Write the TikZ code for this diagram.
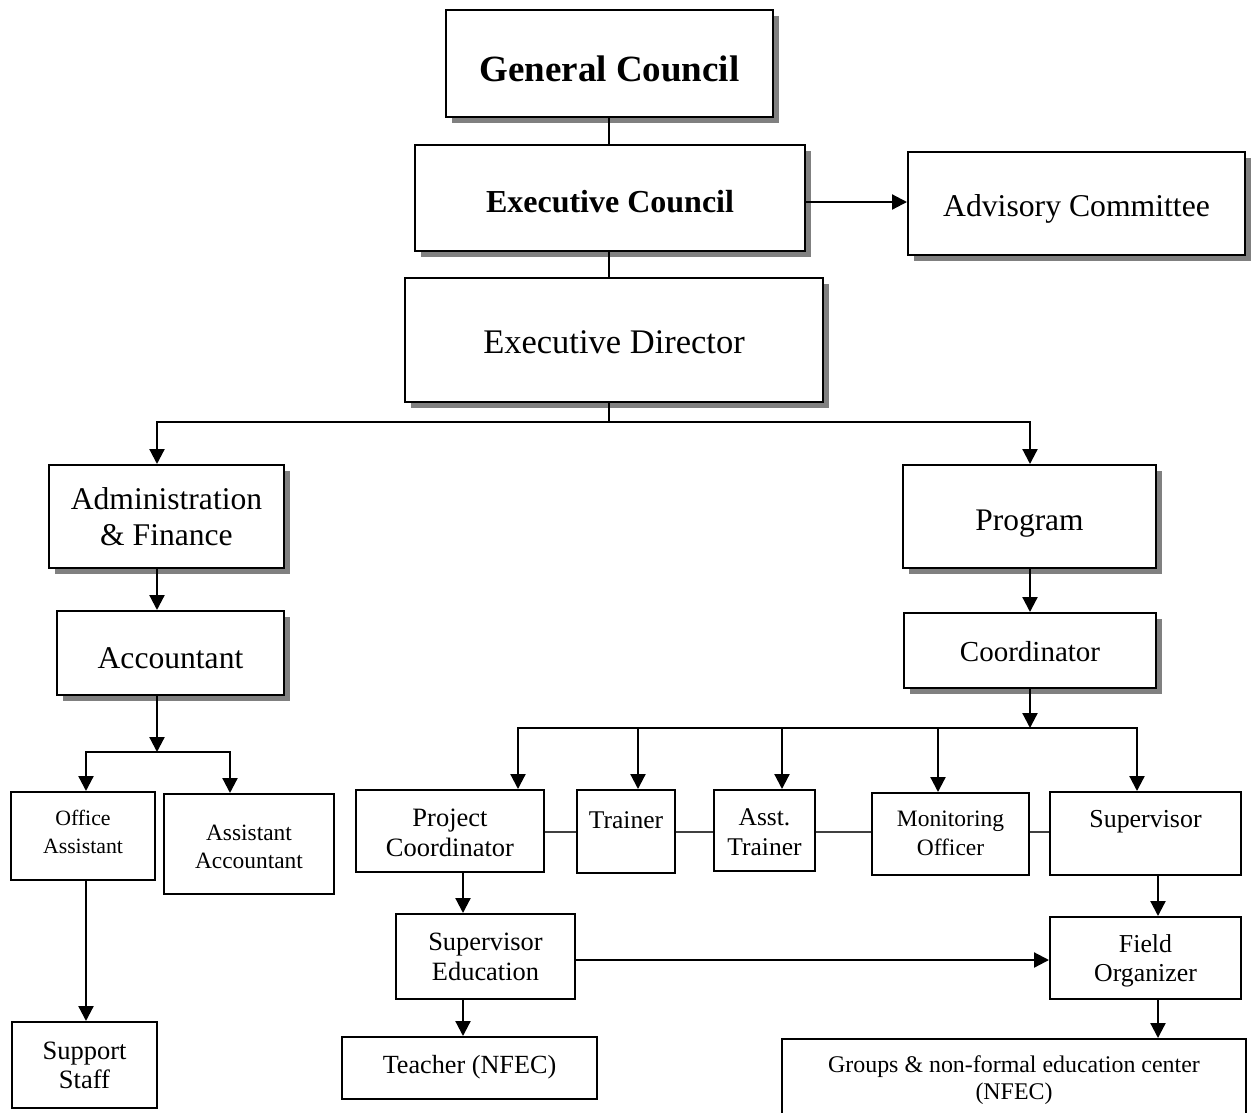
\documentclass[tikz,border=0pt]{standalone}
\usepackage{fontspec}
\setmainfont{Liberation Serif}
\usetikzlibrary{arrows.meta,shadows}
\begin{document}
\begin{tikzpicture}[x=1pt,y=-1pt,
  box/.style={draw=black, line width=2pt, fill=white, inner sep=0pt, rectangle},
  shbox/.style={box, drop shadow={shadow xshift=6pt, shadow yshift=-6pt, fill=black!50, opacity=1}},
  txt/.style={inner sep=0pt, align=center},
  arr/.style={line width=2.2pt, line join=miter, -{Triangle[length=15pt,width=15pt]}},
  ln/.style={line width=2.2pt},
  thinln/.style={line width=1.7pt, draw=black!75},
]
\useasboundingbox (0,0) rectangle (1253,1112);

% ---- boxes ----
\node[shbox, minimum width=327pt, minimum height=107pt] (gc) at (609.5,63.5) {};
\node[shbox, minimum width=390pt, minimum height=106pt] (ec) at (610,198) {};
\node[shbox, minimum width=337pt, minimum height=103pt] (adv) at (1076.5,203.5) {};
\node[shbox, minimum width=418pt, minimum height=124pt] (ed) at (614,340) {};

\node[shbox, minimum width=235pt, minimum height=103pt] (af) at (166.5,516.5) {};
\node[shbox, minimum width=227pt, minimum height=84pt] (acc) at (170.5,653) {};
\node[box, minimum width=144pt, minimum height=88pt] (oa) at (83,836) {};
\node[box, minimum width=170pt, minimum height=100pt] (aa) at (249,844) {};
\node[box, minimum width=145pt, minimum height=86pt] (ss) at (84.5,1065) {};

\node[shbox, minimum width=253pt, minimum height=103pt] (prog) at (1029.5,516.5) {};
\node[shbox, minimum width=252pt, minimum height=75pt] (coord) at (1030,650.5) {};

\node[box, minimum width=188pt, minimum height=82pt] (pc) at (450,831) {};
\node[box, minimum width=98pt, minimum height=83pt] (tr) at (626,831.5) {};
\node[box, minimum width=101pt, minimum height=81pt] (at) at (764.5,830.5) {};
\node[box, minimum width=157pt, minimum height=82pt] (mo) at (950.5,834) {};
\node[box, minimum width=191pt, minimum height=83pt] (sup) at (1145.5,833.5) {};

\node[box, minimum width=179pt, minimum height=85pt] (se) at (485.5,956.5) {};
\node[box, minimum width=191pt, minimum height=82pt] (fo) at (1145.5,958) {};
\node[box, minimum width=255pt, minimum height=62pt] (teach) at (469.5,1068) {};
\node[box, minimum width=464pt, minimum height=78pt] (grp) at (1014,1078) {};

% ---- texts ----
\node[txt, font=\fontsize{37}{40}\selectfont\bfseries] (gct) at (609.5,68.5) {General Council};
\node[txt, font=\fontsize{32}{36}\selectfont\bfseries] (ect) at (610,202) {Executive Council};
\node[txt, font=\fontsize{31.7}{36}\selectfont] (advt) at (1076.5,209) {Advisory Committee};
\node[txt, font=\fontsize{34.5}{38}\selectfont] (edt) at (614,342) {Executive Director};
\node[txt, font=\fontsize{31.6}{36}\selectfont] (aft) at (166.5,516.5) {Administration\\\& Finance};
\node[txt, font=\fontsize{31.6}{36}\selectfont] (acct) at (170.5,658) {Accountant};
\node[txt, font=\fontsize{21.8}{28}\selectfont] (oat) at (83,832) {Office\\Assistant};
\node[txt, font=\fontsize{23.4}{28}\selectfont] (aat) at (249,847) {Assistant\\Accountant};
\node[txt, font=\fontsize{26.5}{29}\selectfont] (sst) at (84.5,1065) {Support\\Staff};
\node[txt, font=\fontsize{31.4}{36}\selectfont] (progt) at (1029.5,524) {Program};
\node[txt, font=\fontsize{29}{34}\selectfont] (coordt) at (1030,652) {Coordinator};
\node[txt, font=\fontsize{26.5}{30}\selectfont] (pct) at (450,833) {Project\\Coordinator};
\node[txt, font=\fontsize{25.5}{30}\selectfont] (trt) at (626,820.5) {Trainer};
\node[txt, font=\fontsize{25.5}{30}\selectfont] (att) at (764.5,832.5) {Asst.\\Trainer};
\node[txt, font=\fontsize{23.5}{29}\selectfont] (mot) at (950.5,833) {Monitoring\\Officer};
\node[txt, font=\fontsize{25.9}{30}\selectfont] (supt) at (1145.5,822) {Supervisor};
\node[txt, font=\fontsize{26.4}{30}\selectfont] (set) at (485.5,957) {Supervisor\\Education};
\node[txt, font=\fontsize{25.8}{29}\selectfont] (fot) at (1145.5,961) {Field\\Organizer};
\node[txt, font=\fontsize{26.2}{28}\selectfont] (teacht) at (469.5,1067) {Teacher (NFEC)};
\node[txt, font=\fontsize{23.9}{27}\selectfont] (grpt) at (1014,1080) {Groups \& non-formal education center\\(NFEC)};

% ---- coordinates ----
\coordinate (ya) at (850,202);
\coordinate (j1) at (609,422);
\coordinate (jl) at (157,422);
\coordinate (jr) at (1030,422);
\coordinate (ja) at (157,752);
\coordinate (jaL) at (86,752);
\coordinate (jaR) at (230,752);
\coordinate (jc) at (1030,728);
\coordinate (hl) at (518,728);
\coordinate (t1) at (638,728);
\coordinate (t2) at (782,728);
\coordinate (t3) at (938,728);
\coordinate (hr) at (1137,728);
\coordinate (hm) at (700,832);
\coordinate (xp) at (463,900);
\coordinate (xs) at (1158,900);
\coordinate (yb) at (800,960);

% ---- connectors ----
\draw[ln] (gc.south -| j1) -- (ec.north -| j1);
\draw[ln] (ec.south -| j1) -- (ed.north -| j1);
\draw[arr] (ec.east |- ya) -- (adv.west |- ya);
\draw[ln] (ed.south -| j1) -- (j1);
\draw[arr] (j1) -- (jl) -- (jl |- af.north);
\draw[arr] (j1) -- (jr) -- (jr |- prog.north);
\draw[arr] (jl |- af.south) -- (jl |- acc.north);
\draw[arr] (jr |- prog.south) -- (jr |- coord.north);

\draw[arr] (jl |- acc.south) -- (ja);
\draw[arr] (ja) -- (jaL) -- (jaL |- oa.north);
\draw[arr] (ja) -- (jaR) -- (jaR |- aa.north);
\draw[arr] (jaL |- oa.south) -- (jaL |- ss.north);

\draw[arr] (jr |- coord.south) -- (jc);
\draw[arr] (jc) -- (hl) -- (hl |- pc.north);
\draw[arr] (jc) -- (hr) -- (hr |- sup.north);
\draw[arr] (t1) -- (t1 |- tr.north);
\draw[arr] (t2) -- (t2 |- at.north);
\draw[arr] (t3) -- (t3 |- mo.north);

\draw[thinln] (pc.east |- hm) -- (tr.west |- hm);
\draw[thinln] (tr.east |- hm) -- (at.west |- hm);
\draw[thinln] (at.east |- hm) -- (mo.west |- hm);
\draw[thinln] (mo.east |- hm) -- (sup.west |- hm);

\draw[arr] (xp |- pc.south) -- (xp |- se.north);
\draw[arr] (xp |- se.south) -- (xp |- teach.north);
\draw[arr] (se.east |- yb) -- (fo.west |- yb);
\draw[arr] (xs |- sup.south) -- (xs |- fo.north);
\draw[arr] (xs |- fo.south) -- (xs |- grp.north);
\end{tikzpicture}
\end{document}
